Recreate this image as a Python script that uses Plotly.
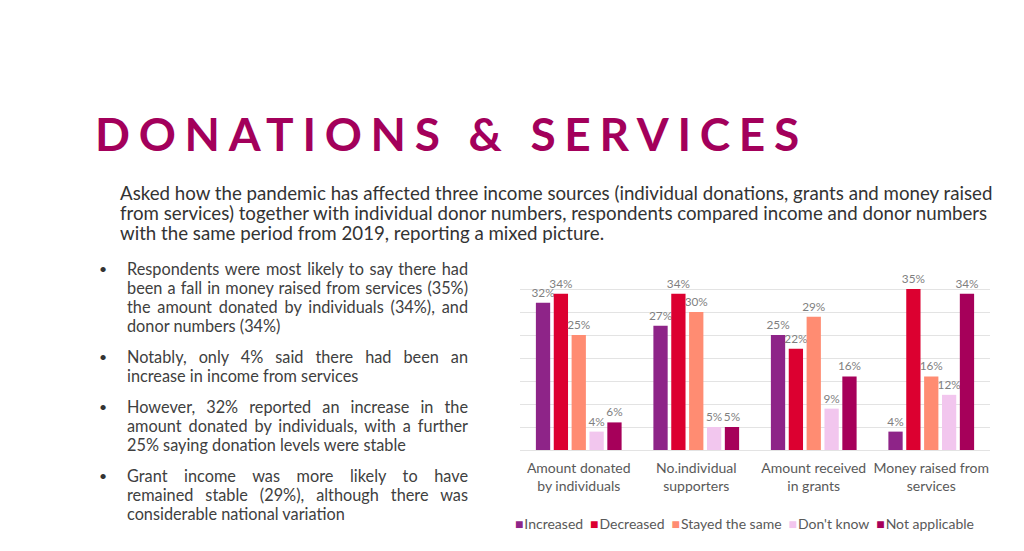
import json
import plotly.graph_objects as go

categories = ["Amount donated<br>by individuals", "No.individual<br>supporters",
              "Amount received<br>in grants", "Money raised from<br>services"]
series_names = ["Increased", "Decreased", "Stayed the same", "Don't know", "Not applicable"]
increased = [32, 27, 25, 4]
decreased = [34, 34, 22, 35]
stayed_same = [25, 30, 29, 16]
dont_know = [4, 5, 9, 12]
not_applicable = [6, 5, 16, 34]
series_values = [increased, decreased, stayed_same, dont_know, not_applicable]
colors = ["#8E2488", "#DC0030", "#FF8C72", "#F2C6EE", "#A6005A"]

W, H = 1024, 551
OFF = 8  # page body margin
X0, X1, Y0, Y1 = 520, 990, 266, 450  # target plot area on screen
L, R, T, B = X0 - OFF, W - (X1 - OFF), Y0 - OFF, H - (Y1 - OFF)


def px(x):
    return (x - X0) / (X1 - X0)


def py(y):
    return (Y1 - y) / (Y1 - Y0)


fig = go.Figure()
for name, vals, col in zip(series_names, series_values, colors):
    fig.add_trace(go.Bar(
        x=categories, y=vals, name=name, marker_color=col, marker_line_width=0,
        text=[f"{v}%" for v in vals], textposition="outside", cliponaxis=False,
        constraintext="none", textangle=0,
        textfont=dict(family="Lato", size=11.8, color="#7F7F7F"),
        showlegend=False,
    ))

fig.update_layout(
    width=W, height=H, margin=dict(l=L, r=R, t=T, b=B, pad=0, autoexpand=False),
    paper_bgcolor="white", plot_bgcolor="white",
    barmode="group", bargap=0.24, bargroupgap=0.2,
    font=dict(family="Lato", color="#404040"),
)
fig.update_yaxes(range=[0, 40.02], dtick=5, showticklabels=False, gridcolor="#E3E3E3",
                 gridwidth=1, zeroline=True, zerolinecolor="#E3E3E3", zerolinewidth=1,
                 showline=False, fixedrange=True)
fig.update_xaxes(tickfont=dict(family="Lato", size=14, color="#595959"), showline=False,
                 ticks="", ticklabelstandoff=8, fixedrange=True)

ann = []
# Title
ann.append(dict(text='<span style="letter-spacing:8.7px"><b>DONATIONS & SERVICES</b></span>',
                x=px(93), y=py(133), xanchor="left", yanchor="middle",
                font=dict(family="Lato", size=46, color="#A3005B")))

para = ["Asked how the pandemic has affected three income sources (individual donations, grants and money raised",
        "from services) together with individual donor numbers, respondents compared income and donor numbers",
        "with the same period from 2019, reporting a mixed picture."]
for i, line in enumerate(para):
    ann.append(dict(text=line, x=px(118), y=py(193 + i * 20), xanchor="left", yanchor="middle",
                    font=dict(family="Lato", size=18.7, color="#333333")))

bullets = [
    ["Respondents were most likely to say there had", "been a fall in money raised from services (35%)",
     "the amount donated by individuals (34%), and", "donor numbers (34%)"],
    ["Notably, only 4% said there had been an", "increase in income from services"],
    ["However, 32% reported an increase in the", "amount donated by individuals, with a further",
     "25% saying donation levels were stable"],
    ["Grant income was more likely to have", "remained stable (29%), although there was",
     "considerable national variation"],
]
starts = [268, 356, 406, 475]
justify = []
for b, y0 in zip(bullets, starts):
    ann.append(dict(text="•", x=px(103), y=py(y0), xanchor="center", yanchor="middle",
                    font=dict(family="Lato", size=14, color="#333333")))
    for j, line in enumerate(b):
        ann.append(dict(text=line, x=px(125), y=py(y0 + j * 19.2), xanchor="left", yanchor="middle",
                        font=dict(family="Lato", size=16.3, color="#404040")))
        if j < len(b) - 1:
            justify.append(line)

legend_txt = "\u2002".join(
    f'<span style="color:{c}">■</span>\u200a{n}' for n, c in zip(series_names, colors))
ann.append(dict(text=legend_txt, x=px(744), y=py(523), xanchor="center", yanchor="middle",
                font=dict(family="Lato", size=14, color="#595959")))

for a in ann:
    a.update(xref="paper", yref="paper", showarrow=False)
fig.update_layout(annotations=ann)

JUST_WIDTH = 467 - 126
post = """
(function(){
  var lines = %s;
  var target = %f;
  var texts = document.querySelectorAll('g.annotation text');
  texts.forEach(function(t){
    if (lines.indexOf(t.textContent) >= 0) {
      var x0 = t.getBBox().x;
      var w = t.getComputedTextLength();
      var n = (t.textContent.match(/ /g) || []).length;
      if (n > 0 && w < target) {
        t.style.wordSpacing = ((target - w) / n) + 'px';
        var x1 = t.getBBox().x;
        var dx = x0 - x1;
        var old = t.getAttribute('transform') || '';
        t.setAttribute('transform', 'translate(' + dx + ',0) ' + old);
      }
    }
  });
})();
""" % (json.dumps(justify), JUST_WIDTH)

fig.write_html("out.html", post_script=post)
